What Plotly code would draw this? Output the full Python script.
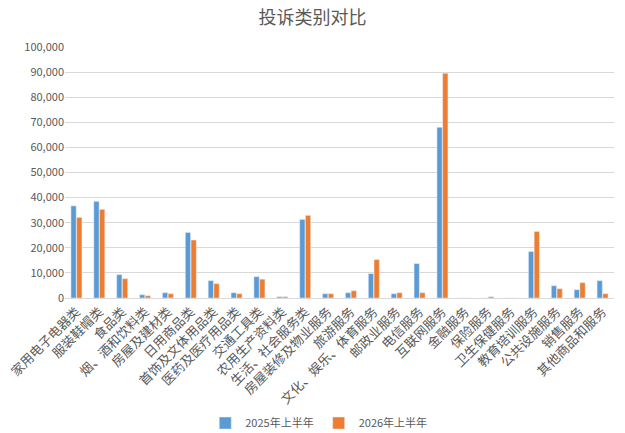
import plotly.graph_objects as go

categories = ["家用电子电器类", "服装鞋帽类", "食品类", "烟、酒和饮料类", "房屋及建材类", "日用商品类",
              "首饰及文体用品类", "医药及医疗用品类", "交通工具类", "农用生产资料类", "生活、社会服务类",
              "房屋装修及物业服务", "旅游服务", "文化、娱乐、体育服务", "邮政业服务", "电信服务",
              "互联网服务", "金融服务", "保险服务", "卫生保健服务", "教育培训服务", "公共设施服务",
              "销售服务", "其他商品和服务"]
series_2025 = [36700, 38500, 9300, 1300, 2100, 26100, 6900, 2100, 8500, 500, 31300,
               1700, 2100, 9700, 1700, 13700, 68000, 0, 0, 0, 18500, 4900, 3300, 6900]
series_2026 = [32100, 35300, 7700, 900, 1700, 23100, 5700, 1700, 7500, 500, 32900,
               1700, 2900, 15300, 2100, 2100, 89500, 0, 500, 0, 26500, 3700, 6100, 1700]
name_2025 = "2025年上半年"
name_2026 = "2026年上半年"
title = "投诉类别对比"

font_family = "Noto Sans CJK SC, Microsoft YaHei, sans-serif"
gray = "#595959"

fig = go.Figure()
fig.add_trace(go.Bar(x=categories, y=series_2025, name=name_2025, marker_color="#5B9BD5"))
fig.add_trace(go.Bar(x=categories, y=series_2026, name=name_2026, marker_color="#ED7D31"))

fig.update_layout(
    width=625, height=433,
    margin=dict(l=65, r=11, t=47, b=135, autoexpand=False),
    paper_bgcolor="white", plot_bgcolor="white",
    font=dict(family=font_family, color=gray, size=11),
    title=dict(text=title, x=0.5, xanchor="center", yref="container", y=0.96, yanchor="middle",
               font=dict(size=18, color=gray, family=font_family)),
    barmode="group", bargap=0.5, bargroupgap=0.08,
    legend=dict(orientation="h", xref="container", x=0.51, xanchor="center",
                yref="container", y=0.023, yanchor="middle",
                font=dict(size=11, color=gray), itemwidth=30, traceorder="normal"),
    showlegend=True,
)
fig.update_yaxes(range=[0, 100000], dtick=10000, tickformat=",d", showgrid=True,
                 gridcolor="#D9D9D9", gridwidth=1, zeroline=False, showline=False,
                 ticks="", tickfont=dict(size=11, color=gray), automargin=False)
fig.update_xaxes(tickangle=-45, showline=True, linecolor="#D9D9D9", linewidth=1,
                 ticks="", tickfont=dict(size=13, color=gray), automargin=False)

fig.write_html("out.html", config={"displayModeBar": False},
               post_script="document.body.style.margin='0px';")
